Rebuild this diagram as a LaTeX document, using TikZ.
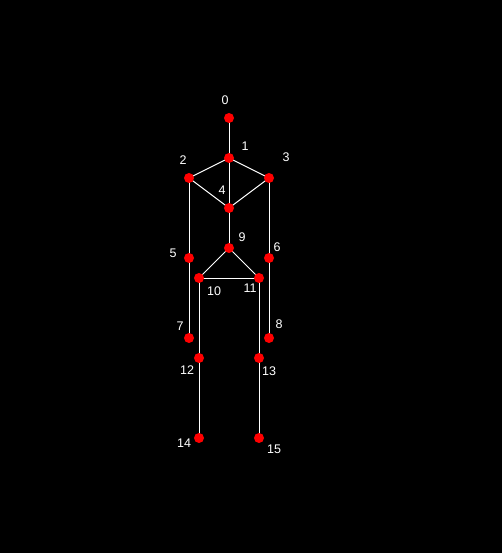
\documentclass[tikz,border=0pt]{standalone}
\usepackage{fontspec}
\setmainfont{Liberation Sans}
\begin{document}
\begin{tikzpicture}[x=1pt,y=-1pt,
  jt/.style={circle,fill=red,inner sep=0pt,minimum size=10pt},
  bone/.style={draw=white,line width=1pt},
  lbl/.style={text=white,font=\fontsize{12.5}{14}\selectfont,inner sep=0pt}]
\fill[black] (0,0) rectangle (502,553);
\useasboundingbox (0,0) rectangle (502,553);
% joints
\coordinate (c0) at (229,118);
\coordinate (c1) at (229,158);
\coordinate (c2) at (189,178);
\coordinate (c3) at (269,178);
\coordinate (c4) at (229,208);
\coordinate (c5) at (189,258);
\coordinate (c6) at (269,258);
\coordinate (c7) at (189,338);
\coordinate (c8) at (269,338);
\coordinate (c9) at (229,248);
\coordinate (c10) at (199,278);
\coordinate (c11) at (259,278);
\coordinate (c12) at (199,358);
\coordinate (c13) at (259,358);
\coordinate (c14) at (199,438);
\coordinate (c15) at (259,438);
% bones
\draw[bone] (c0) -- (c1);
\draw[bone] (c1) -- (c2);
\draw[bone] (c1) -- (c3);
\draw[bone] (c1) -- (c4);
\draw[bone] (c2) -- (c4);
\draw[bone] (c3) -- (c4);
\draw[bone] (c2) -- (c5);
\draw[bone] (c3) -- (c6);
\draw[bone] (c5) -- (c7);
\draw[bone] (c6) -- (c8);
\draw[bone] (c4) -- (c9);
\draw[bone] (c9) -- (c10);
\draw[bone] (c9) -- (c11);
\draw[bone] (c10) -- (c11);
\draw[bone] (c10) -- (c12);
\draw[bone] (c11) -- (c13);
\draw[bone] (c12) -- (c14);
\draw[bone] (c13) -- (c15);
% dots
\foreach \i in {0,...,15} { \node[jt] (n\i) at (c\i) {}; }
% labels
\node[lbl] (l0) at (225,100) {0};
\node[lbl] (l1) at (245,146) {1};
\node[lbl] (l2) at (183,160) {2};
\node[lbl] (l3) at (286,157) {3};
\node[lbl] (l4) at (222,190) {4};
\node[lbl] (l5) at (173,253) {5};
\node[lbl] (l6) at (277,247) {6};
\node[lbl] (l7) at (180,326) {7};
\node[lbl] (l8) at (279,324) {8};
\node[lbl] (l9) at (242,237) {9};
\node[lbl] (l10) at (214,291) {10};
\node[lbl] (l11) at (250,288) {11};
\node[lbl] (l12) at (187,370) {12};
\node[lbl] (l13) at (269,371) {13};
\node[lbl] (l14) at (184,443) {14};
\node[lbl] (l15) at (274,449) {15};
\end{tikzpicture}
\end{document}
